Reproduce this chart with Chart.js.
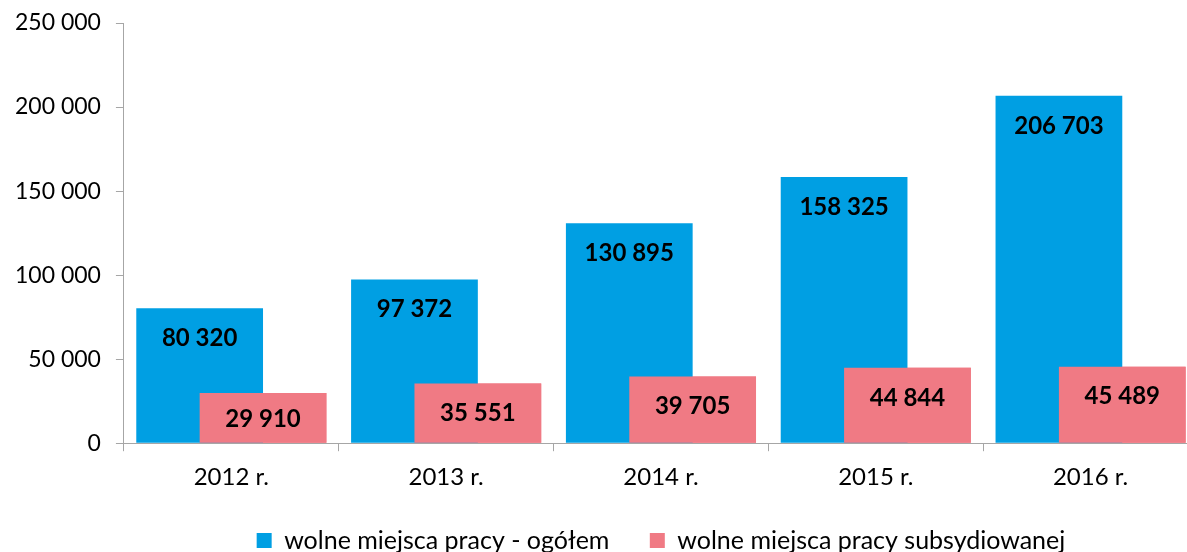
<!DOCTYPE html>
<html>
<head>
<meta charset="utf-8">
<script src="https://cdn.jsdelivr.net/npm/chart.js@4/dist/chart.umd.min.js"></script>
<style>
  body { margin: 0; overflow: hidden; background: #fff; }
  #wrap { position: absolute; left: 0; top: 0; width: 1200px; height: 552px; }
</style>
</head>
<body>
<div id="wrap"><canvas id="vacancyChart"></canvas></div>
<script>
// Wolne miejsca pracy 2012-2016
const years = ['2012 r.', '2013 r.', '2014 r.', '2015 r.', '2016 r.'];
const totalPlaces = [80320, 97372, 130895, 158325, 206703];
const subsidisedPlaces = [29910, 35551, 39705, 44844, 45489];
const seriesNames = ['wolne miejsca pracy - ogółem', 'wolne miejsca pracy subsydiowanej'];

const fontFamily = 'Lato, "Open Sans", sans-serif';
const axisGrey = '#a6a6a6';

// 80320 -> "80 320"
function spaced(v) {
    return String(v).replace(/\B(?=(\d{3})+(?!\d))/g, ' ');
}

// pink bars sit on top of the blue ones, then the value labels
const barLabels = {
    id: 'barLabels',
    afterDatasetsDraw(chart) {
        const ctx = chart.ctx;
        const area = chart.chartArea;
        ctx.save();
        ctx.beginPath();
        ctx.rect(area.left, area.top, area.right - area.left, area.bottom - area.top);
        ctx.clip();
        chart.getDatasetMeta(1).data.forEach(bar => bar.draw(ctx));
        ctx.restore();

        ctx.save();
        ctx.font = 'bold 24px ' + fontFamily;
        ctx.fillStyle = '#000';
        ctx.textAlign = 'center';
        ctx.textBaseline = 'middle';
        chart.data.datasets.forEach((ds, i) => {
            chart.getDatasetMeta(i).data.forEach((bar, j) => {
                const y = Math.min(bar.y + 30, (bar.y + bar.base) / 2 + 1);
                ctx.fillText(spaced(ds.data[j]), bar.x, y);
            });
        });
        ctx.restore();
    }
};

const ctx = document.getElementById('vacancyChart').getContext('2d');
new Chart(ctx, {
    type: 'bar',
    data: {
        labels: years,
        datasets: [
            {
                label: seriesNames[0],
                data: totalPlaces,
                backgroundColor: '#009fe3',
                categoryPercentage: 0.59,
                barPercentage: 2.0
            },
            {
                label: seriesNames[1],
                data: subsidisedPlaces,
                backgroundColor: '#f07a84',
                categoryPercentage: 0.59,
                barPercentage: 2.0
            }
        ]
    },
    options: {
        responsive: true,
        maintainAspectRatio: false,
        animation: false,
        layout: { padding: { top: 0, right: 2, left: 0, bottom: -11 } },
        scales: {
            x: {
                offset: true,
                grid: { display: true, drawOnChartArea: false, drawTicks: true, tickLength: 8, color: axisGrey, offset: true },
                border: { color: axisGrey },
                ticks: { color: '#000', padding: 12, font: { family: fontFamily, size: 24 } },
                afterFit: scale => { scale.height += 22; }
            },
            y: {
                min: 0,
                max: 250000,
                grid: { display: true, drawOnChartArea: false, drawTicks: true, tickLength: 8, color: axisGrey },
                border: { color: axisGrey },
                ticks: {
                    stepSize: 50000,
                    color: '#000',
                    padding: 15,
                    font: { family: fontFamily, size: 23 },
                    callback: v => spaced(v)
                },
                afterFit: scale => { scale.paddingTop = 23; }
            }
        },
        plugins: {
            legend: {
                position: 'bottom',
                fullSize: false,
                labels: {
                    boxWidth: 15,
                    boxHeight: 15,
                    padding: 2,
                    color: '#000',
                    font: { family: fontFamily, size: 25 },
                    generateLabels: chart => {
                        const items = Chart.defaults.plugins.legend.labels.generateLabels(chart);
                        items[0].text += '\u00a0'.repeat(6);
                        return items;
                    }
                }
            },
            tooltip: { enabled: false }
        }
    },
    plugins: [barLabels]
});
</script>
</body>
</html>
